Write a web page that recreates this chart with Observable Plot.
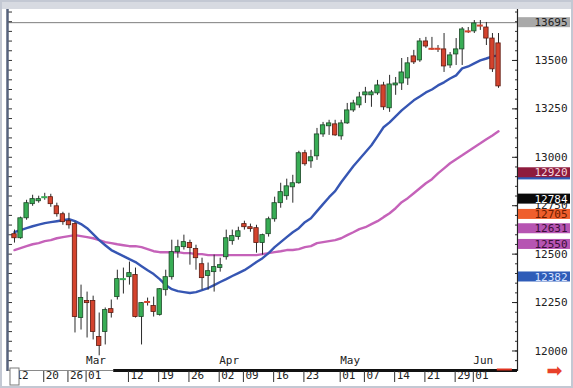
<!DOCTYPE html>
<html><head><meta charset="utf-8">
<script src="https://cdn.jsdelivr.net/npm/d3@7"></script>
<script src="https://cdn.jsdelivr.net/npm/@observablehq/plot@0.6"></script>
<style>
html,body{margin:0;padding:0;background:#fff;}
#chart{width:573px;height:388px;position:relative;overflow:hidden;}
</style></head><body><div id="chart"></div>
<script>
// trading-day index 0 = 12 Feb, 80 = 7 Jun
const dateTicks  = [0,5,9,12,19,24,29,34,38,43,48,54,58,63,68,73,76];
const dateLabels = ["12","20","26","01","12","19","26","02","09","16","23","01","07","14","21","29","01"];
const monthIdx    = [12,34,54,76];
const monthLabels = ["Mar","Apr","May","Jun"];

const open = [12603,12582,12685,12758,12773,12792,12794,12747,12706,12670,12655,12170,12258,12258,12072,12098,12216,12278,12369,12381,
  12392,12175,12255,12232,12186,12314,12381,12510,12536,12557,12526,12448,12387,12407,12428,12484,12567,12588,12655,12639,
  12634,12557,12603,12680,12763,12799,12845,12866,13021,12979,13005,13118,13160,13170,13108,13175,13242,13268,13320,13320,
  13330,13371,13253,13371,13381,13407,13521,13500,13598,13563,13563,13557,13474,13531,13557,13652,13650,13682,13670,13613,13588];
const high = [12624,12691,12778,12804,12799,12814,12809,12763,12716,12711,12665,12340,12304,12283,12196,12222,12263,12417,12428,12459,
  12428,12250,12273,12278,12322,12417,12572,12572,12598,12572,12546,12479,12454,12495,12479,12624,12624,12639,12670,12655,
  12649,12603,12691,12794,12866,12887,12907,13031,13036,13036,13149,13180,13191,13191,13191,13278,13294,13335,13361,13345,
  13397,13387,13423,13412,13510,13515,13552,13613,13619,13619,13577,13639,13541,13613,13670,13670,13706,13706,13696,13639,13639];
const low = [12557,12577,12675,12747,12763,12778,12742,12691,12649,12629,12093,12108,12067,12057,11975,12031,12170,12263,12294,12340,
  12170,12031,12232,12175,12180,12283,12366,12479,12521,12443,12417,12314,12314,12304,12407,12469,12546,12572,12624,12613,
  12505,12495,12588,12665,12737,12778,12763,12861,12954,12943,12984,13103,13113,13108,13088,13170,13232,13253,13278,13258,
  13320,13242,13232,13320,13345,13371,13479,13490,13562,13552,13541,13438,13459,13474,13474,13639,13639,13655,13577,13438,13356];
const close = [12582,12685,12763,12784,12784,12794,12758,12706,12665,12649,12175,12273,12247,12098,12026,12211,12196,12371,12371,12402,
  12175,12247,12253,12201,12319,12381,12510,12536,12562,12531,12479,12376,12412,12433,12443,12582,12593,12618,12639,12629,
  12557,12598,12680,12763,12820,12850,12866,13021,12964,13000,13118,13165,13175,13113,13175,13242,13278,13309,13335,13335,
  13371,13258,13376,13381,13438,13485,13490,13598,13572,13560,13560,13469,13526,13557,13660,13650,13691,13680,13613,13454,13366];

const maBlue = [12613,12624,12634,12644,12652,12660,12665,12670,12675,12680,12670,12655,12634,12603,12572,12546,12521,12505,12490,12474,
  12459,12438,12417,12397,12371,12340,12319,12309,12304,12299,12304,12314,12325,12340,12356,12371,12387,12402,12417,12438,
  12459,12479,12505,12536,12562,12588,12613,12634,12665,12685,12722,12758,12794,12825,12871,12912,12954,12990,13026,13062,
  13108,13155,13180,13211,13242,13268,13294,13314,13335,13350,13371,13387,13407,13423,13459,13469,13485,13500,13510,13521,13526];
const maPink = [12521,12531,12541,12551,12557,12567,12572,12582,12588,12593,12598,12593,12588,12582,12572,12562,12557,12551,12546,12541,
  12541,12536,12526,12515,12510,12510,12510,12510,12505,12505,12500,12500,12495,12495,12495,12495,12495,12495,12495,12495,
  12495,12500,12505,12510,12515,12521,12521,12526,12536,12541,12557,12562,12567,12572,12582,12598,12613,12629,12639,12655,
  12670,12691,12711,12737,12768,12789,12814,12840,12866,12887,12917,12943,12969,12990,13010,13031,13052,13072,13093,13113,13134];

const priceTicks = [12000,12250,12500,12750,13000,13250,13500];
const minorTicks = d3.range(11900, 13751, 50);
const highLine = 13695;
const markerValues = [12909,12920,12784,12705,12631,12550,12382,13695];
const markerText   = ["","12920","12784","12705","12631","12550","12382","13695"];
const markerFill   = ["#2f5cb8","#8e1b3d","#0a0a0a","#ef5e2c","#b654b2","#b654b2","#2f5cb8","#a9a9a9"];
const markerInk    = ["#2f5cb8","#f3d6de","#ffffff","#6a1c00","#3c0f3a","#3c0f3a","#d6e2ff","#222222"];

const xDomain = [-0.99, 83.14];
const yDomain = [11894, 13763];
const scrollSplit = 16.4, redFrom = 79.8, redTo = 82.3;

const green = "#38ad55", red = "#d4432d";
const candles = open.map((o,i)=>({i, o, h:high[i], l:low[i], c:close[i], up: close[i] >= o, doji: Math.abs(close[i]-o) < 4}));
const blueLine = maBlue.map((v,i)=>({i, v}));
const pinkLine = maPink.map((v,i)=>({i, v}));
const markers = markerValues.map((v,k)=>({v, t:markerText[k], f:markerFill[k], ink:markerInk[k]}));

const chart = Plot.plot({
  width: 573, height: 388,
  marginLeft: 8, marginRight: 56, marginTop: 9, marginBottom: 17,
  x: {domain: xDomain, axis: null},
  y: {domain: yDomain, axis: null},
  color: {type: "identity"},
  style: {fontFamily: "'DejaVu Sans Mono', monospace", fontSize: "11px", background: "#fff", color: "#222", overflow: "visible"},
  marks: [
    Plot.ruleY([highLine], {stroke: "#7d7d7d", strokeWidth: 1}),
    Plot.line(pinkLine, {x: "i", y: "v", stroke: "#c562b9", strokeWidth: 2.4}),
    Plot.line(blueLine, {x: "i", y: "v", stroke: "#3656b3", strokeWidth: 2.4}),
    Plot.ruleX(candles, {x: "i", y1: "l", y2: "h", stroke: "#2a2a2a", strokeWidth: 1}),
    Plot.rect(candles.filter(d=>!d.doji), {x1: "i", x2: "i", y1: "o", y2: "c", insetLeft: -2.2, insetRight: -2.2,
      fill: d => d.up ? green : red, stroke: d => d.up ? "#1b4826" : "#5c1a10", strokeWidth: 0.8}),
    Plot.ruleY(candles.filter(d=>d.doji), {x1: "i", x2: "i", y: "c", insetLeft: -3, insetRight: -3,
      stroke: d => d.up ? green : red, strokeWidth: 2}),
    // axes and frame
    Plot.axisY({anchor: "left", ticks: minorTicks, tickSize: 4, dx: 4, tickFormat: () => "", label: null, stroke: "#333"}),
    Plot.axisY({anchor: "right", ticks: minorTicks, tickSize: 3, dx: -3, tickFormat: () => "", label: null, stroke: "#333"}),
    Plot.axisY({anchor: "right", ticks: priceTicks, tickSize: 6, dx: -6, tickFormat: () => "", label: null, stroke: "#222"}),
    Plot.axisY({anchor: "right", ticks: priceTicks, tickSize: 0, tickPadding: 17, tickFormat: d => String(d), label: null, fill: "#222"}),
    Plot.ruleX([xDomain[1]], {stroke: "#222", strokeWidth: 1.2}),
    Plot.ruleX([xDomain[0]], {stroke: "#56627c", strokeWidth: 2.5, dx: -1}),
    Plot.ruleY([yDomain[0]], {x1: xDomain[0], x2: scrollSplit, stroke: "#8a8a8a", strokeWidth: 1, dy: -1}),
    Plot.ruleY([yDomain[0]], {x1: scrollSplit, x2: xDomain[1], stroke: "#111", strokeWidth: 3, dy: -1}),
    Plot.ruleY([yDomain[0]], {x1: redFrom, x2: redTo, stroke: "#e0321f", strokeWidth: 2, dy: -2}),
    // date axis
    Plot.axisX({anchor: "bottom", ticks: dateTicks, tickSize: 11, dx: -1, tickFormat: () => "", label: null, stroke: "#333"}),
    Plot.text(dateTicks, {x: d => d, text: (d,k) => dateLabels[k], frameAnchor: "bottom", dy: 7, dx: 1, textAnchor: "start", fill: "#222"}),
    Plot.text(monthIdx, {x: d => d, text: (d,k) => monthLabels[k], frameAnchor: "bottom", dy: -8, dx: -1, textAnchor: "start", fill: "#222"}),
    Plot.rect([0], {x1: () => xDomain[0], x2: () => xDomain[0], y1: () => yDomain[0], y2: () => yDomain[0],
      insetLeft: 2, insetRight: -11, insetTop: -3, insetBottom: -14, fill: "#fff", stroke: "#7a7a7a", strokeWidth: 1}),
    // right side value markers
    Plot.rect(markers, {x1: () => xDomain[1], x2: () => xDomain[1], y1: "v", y2: "v",
      insetLeft: 1, insetRight: -53, insetTop: -5, insetBottom: -5, fill: "f"}),
    Plot.text(markers, {x: () => xDomain[1], y: "v", text: "t", fill: "ink", textAnchor: "start", dx: 17}),
    Plot.text(["\u27A1"], {text: d => d, frameAnchor: "bottom-right", dx: 45, dy: 5, fill: "#e8402a", fontSize: 19, fontFamily: "DejaVu Sans"})
  ]
});

const svg = d3.select(chart);
svg.insert("rect", ":first-child").attr("x", 0).attr("y", 0).attr("width", 573).attr("height", 9).attr("fill", "#d7dae1");
svg.append("rect").attr("x", 1).attr("y", 1).attr("width", 571).attr("height", 386)
   .attr("fill", "none").attr("stroke", "#c3c8d3").attr("stroke-width", 2);
document.getElementById("chart").appendChild(chart);
</script></body></html>
